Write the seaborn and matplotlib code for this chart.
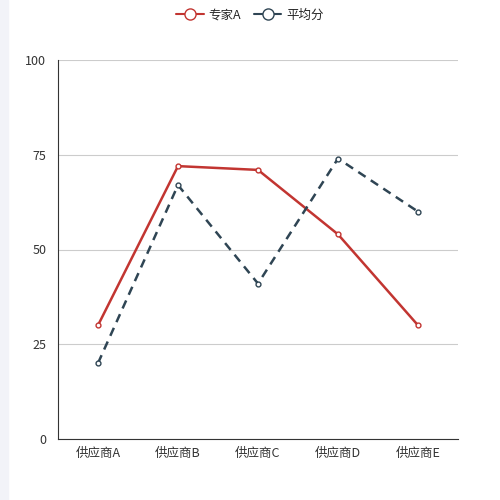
import pandas as pd
import matplotlib
matplotlib.use('Agg')
import matplotlib.pyplot as plt
import seaborn as sns
from matplotlib.patches import Rectangle

# data
suppliers = ['供应商A', '供应商B', '供应商C', '供应商D', '供应商E']
expert_a = [30, 72, 71, 54, 30]
average = [20, 67, 41, 74, 60]
series_names = ['专家A', '平均分']

sns.set_style('white')
plt.rcParams['font.family'] = ['Noto Sans CJK SC', 'DejaVu Sans']

df = pd.DataFrame({
    'supplier': suppliers * 2,
    'score': expert_a + average,
    'series': [series_names[0]] * 5 + [series_names[1]] * 5,
})

red = '#c23531'
dark = '#2f4554'

fig = plt.figure(figsize=(5, 5), dpi=100)
fig.patches.append(Rectangle((0, 0), 8 / 500, 1, transform=fig.transFigure,
                             color='#f2f3f8', zorder=0))
ax = fig.add_axes([0.116, 0.122, 0.8, 0.758])

sns.lineplot(data=df, x='supplier', y='score', hue='series', style='series',
             palette=[red, dark], dashes=[(1, 0), (3.5, 2.5)],
             markers=['o', 'o'], markersize=3.5, linewidth=1.8,
             sort=False, ax=ax, legend=False)

# hollow markers in the line colour
for line in ax.get_lines():
    line.set_markerfacecolor('white')
    line.set_markeredgecolor(line.get_color())
    line.set_markeredgewidth(1)

ax.set_xlim(-0.5, 4.5)
ax.set_ylim(0, 100)
ax.set_yticks([0, 25, 50, 75, 100])
ax.yaxis.grid(True, color='#cccccc', linewidth=0.8)
ax.set_axisbelow(True)

ax.set_xticks([i - 0.5 for i in range(6)])
ax.set_xticklabels([])
ax.set_xticks(range(5), minor=True)
ax.set_xticklabels(suppliers, minor=True)
ax.tick_params(axis='x', which='major', length=5, color='#333333', width=1)
ax.tick_params(axis='x', which='minor', length=0, pad=6, labelsize=9, labelcolor='#333333')
ax.tick_params(axis='y', length=5, color='#333333', width=1, labelsize=9, labelcolor='#333333')
ax.set_xlabel('')
ax.set_ylabel('')

for side in ['top', 'right']:
    ax.spines[side].set_visible(False)
ax.spines['left'].set_color('#333333')
ax.spines['bottom'].set_color('#333333')

handles = [
    plt.Line2D([], [], color=red, marker='o', markersize=8, markerfacecolor='white',
               markeredgewidth=1, linewidth=1.5),
    plt.Line2D([], [], color=dark, marker='o', markersize=8, markerfacecolor='white',
               markeredgewidth=1, linewidth=1.5),
]
fig.legend(handles, series_names, loc='upper center', bbox_to_anchor=(0.5, 1.005),
           ncol=2, frameon=False, fontsize=9, handlelength=2.2, handletextpad=0.4,
           columnspacing=1.0)

fig.savefig('out.png', dpi=100)
